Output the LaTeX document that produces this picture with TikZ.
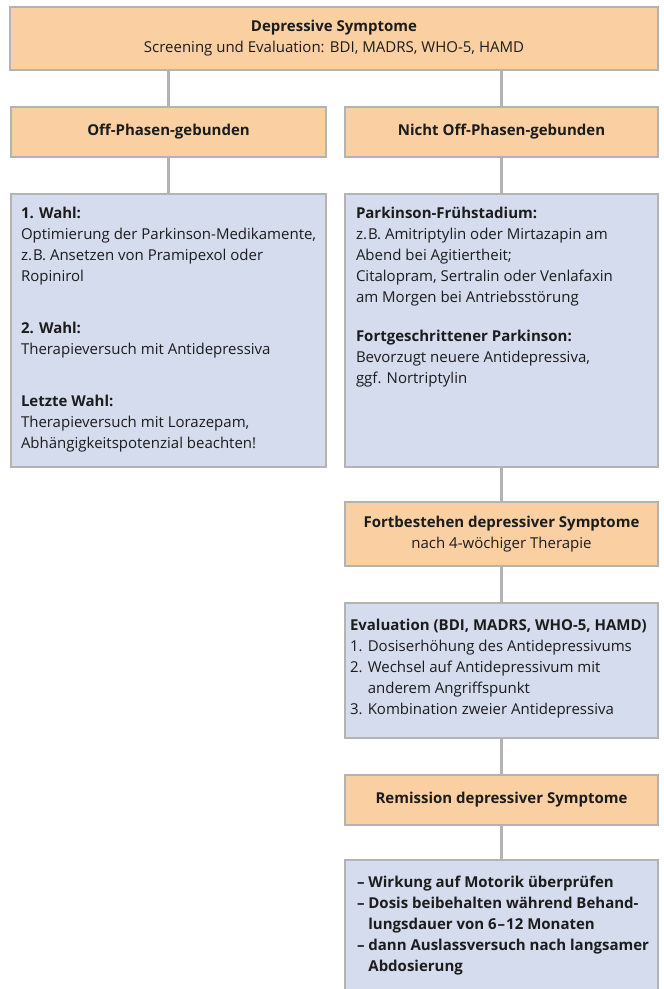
\documentclass[tikz,border=0pt]{standalone}
\usepackage{fontspec}
\setmainfont{Open Sans}

\definecolor{orangefill}{HTML}{FAD0A2}
\definecolor{bluefill}{HTML}{D4DCEE}
\definecolor{linegray}{HTML}{B3B3B3}
\definecolor{inkcol}{HTML}{1C1C1C}

\newcommand{\bodyfont}{\fontsize{15bp}{21bp}\selectfont}
\newcommand{\boxtext}[3]{\parbox[t][#2][t]{#1}{\begin{tabular}[t]{@{}l@{}}#3\end{tabular}}}

\tikzset{
  box/.style={draw=linegray, line width=2bp, anchor=north west, inner sep=0pt, outer sep=0pt, text=inkcol, font=\bodyfont},
  headbox/.style={box, fill=orangefill, align=center},
  infobox/.style={box, fill=bluefill, inner xsep=11bp, inner ysep=10bp},
  link/.style={draw=linegray, line width=2.6bp},
}

\begin{document}
\begin{tikzpicture}[x=1bp, y=-1bp]
\useasboundingbox (0,0) rectangle (664,989);

\node[headbox, minimum width=648bp, minimum height=63bp] (symptome) at (10,7)
  {\textbf{Depressive Symptome}\\Screening und Evaluation: BDI, MADRS, WHO-5, HAMD};

\node[headbox, minimum width=315bp, minimum height=50bp] (offphase) at (11,107)
  {\textbf{Off-Phasen-gebunden}};
\node[headbox, minimum width=313bp, minimum height=50bp] (nichtoff) at (345,107)
  {\textbf{Nicht Off-Phasen-gebunden}};

\node[infobox, inner xsep=10bp] (wahl) at (11,194) {\boxtext{295bp}{253bp}{%
  \textbf{1. Wahl:}\\
  Optimierung der Parkinson-Medikamente,\\
  z.\kern1bp B. Ansetzen von Pramipexol oder\\
  Ropinirol\\[31bp]
  \textbf{2. Wahl:}\\
  Therapieversuch mit Antidepressiva\\[31bp]
  \textbf{Letzte Wahl:}\\
  Therapieversuch mit Lorazepam,\\
  Abhängigkeitspotenzial beachten!}};

\node[infobox] (stadium) at (345,194) {\boxtext{291bp}{253bp}{%
  \textbf{Parkinson-Frühstadium:}\\
  z.\kern1bp B. Amitriptylin oder Mirtazapin am\\
  Abend bei Agitiertheit;\\
  Citalopram, Sertralin oder Venlafaxin\\
  am Morgen bei Antriebsstörung\\[18bp]
  \textbf{Fortgeschrittener Parkinson:}\\
  Bevorzugt neuere Antidepressiva,\\
  ggf. Nortriptylin}};

\node[headbox, minimum width=313bp, minimum height=64bp] (fortbestehen) at (345,502)
  {\textbf{Fortbestehen depressiver Symptome}\\nach 4-wöchiger Therapie};

\node[infobox, inner xsep=5bp, inner ysep=13bp] (evaluation) at (345,603) {\boxtext{303bp}{109bp}{%
  \textbf{Evaluation (BDI, MADRS, WHO-5, HAMD)}\\
  1. Dosiserhöhung des Antidepressivums\\
  2. Wechsel auf Antidepressivum mit\\
  \hphantom{2. }anderem Angriffspunkt\\
  3. Kombination zweier Antidepressiva}};

\node[headbox, minimum width=313bp, minimum height=50bp] (remission) at (345,775)
  {\textbf{Remission depressiver Symptome}};

\node[infobox, inner xsep=12bp, inner ysep=13bp, font=\bodyfont\bfseries] (erhaltung) at (345,860) {\boxtext{289bp}{130bp}{%
  – Wirkung auf Motorik überprüfen\\
  – Dosis beibehalten während Behand-\\
  \hphantom{– }lungsdauer von 6\kern1bp–\kern1bp12 Monaten\\
  – dann Auslassversuch nach langsamer\\
  \hphantom{– }Abdosierung}};

\draw[link] (offphase.north |- symptome.south) -- (offphase.north);
\draw[link] (nichtoff.north |- symptome.south) -- (nichtoff.north);
\draw[link] (offphase.south) -- (wahl.north);
\draw[link] (nichtoff.south) -- (stadium.north);
\draw[link] (stadium.south) -- (fortbestehen.north);
\draw[link] (fortbestehen.south) -- (evaluation.north);
\draw[link] (evaluation.south) -- (remission.north);
\draw[link] (remission.south) -- (erhaltung.north);
\end{tikzpicture}
\end{document}
